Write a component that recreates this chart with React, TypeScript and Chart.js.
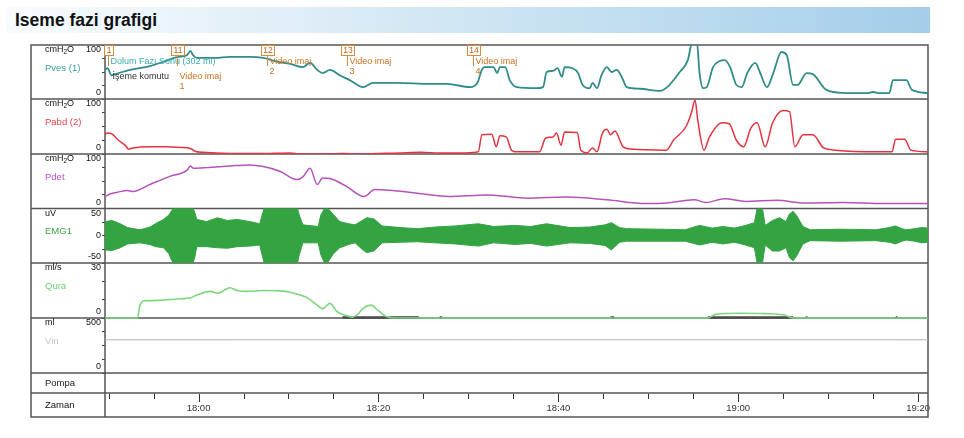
import React, { useEffect, useRef } from 'react';
import { Chart, registerables } from 'chart.js';

Chart.register(...registerables);

type Pt = [number, number | null];

// ---------------- time axis (minutes after 17:00) ----------------
const TIME_MIN = 49.6;
const TIME_MAX = 141.1;
const minorTickMinutes = [50, 55, 60, 65, 70, 75, 80, 85, 90, 95, 100, 105, 110, 115, 120, 125, 130, 135, 140];
const majorTickMinutes = [60, 80, 100, 120, 140];
const majorTickLabels = ['18:00', '18:20', '18:40', '19:00', '19:20'];
const timeAxisName = 'Zaman';
const titleText = 'Iseme fazi grafigi';

// ---------------- channels ----------------
const scaleIds = ['yPves', 'yPabd', 'yPdet', 'yEmg', 'yQura', 'yVin', 'yPompa'];
const channelNames = ['Pves (1)', 'Pabd (2)', 'Pdet', 'EMG1', 'Qura', 'Vin', 'Pompa'];
const channelUnits = ['cmH2O', 'cmH2O', 'cmH2O', 'uV', 'ml/s', 'ml', ''];
const channelLabelValues = [[100, 0], [100, 0], [100, 0], [50, 0, -50], [30, 0], [500, 0], []];
const channelMin = [0, 0, 0, -50, 0, 0, 0];
const channelMax = [100, 100, 100, 50, 30, 500, 1];
const channelStep = [25, 25, 25, 25, 10, 125, 1];

// ---------------- series [minute, value] ----------------
const pves: Pt[] = [
  [49.6, 54], [49.9, 57], [50.3, 44], [50.7, 46], [52.4, 54], [54.6, 61], [56.1, 69], [57.7, 78], [58.7, 81],
  [59.1, 89], [59.4, 81], [59.8, 76], [61.8, 76], [63.5, 78], [65.7, 78], [67.2, 76], [68.5, 70], [70.2, 65],
  [71.6, 59], [72.4, 67], [73.2, 54], [73.8, 48], [74.6, 54], [75.7, 44], [76.8, 35], [78.3, 22], [79.4, 30],
  [82.1, 30], [85.7, 28], [87.6, 28], [90.2, 22], [91.0, 30], [91.5, 54], [91.8, 59], [92.8, 59], [93.2, 48],
  [93.5, 59], [94.1, 59], [94.6, 35], [95.4, 22], [97.6, 20], [98.3, 22], [98.7, 50], [99.4, 52], [99.9, 57],
  [100.4, 41], [100.7, 59], [101.6, 57], [102.2, 48], [102.7, 26], [103.5, 20], [103.8, 30], [104.3, 20],
  [104.8, 44], [105.4, 59], [105.9, 50], [106.5, 54], [107.1, 39], [107.6, 22], [109.1, 19], [111.3, 15],
  [112.1, 22], [113.5, 50], [114.4, 72], [114.9, 106], [115.4, 106], [115.7, 48], [116.1, 20], [116.5, 22],
  [117.2, 59], [117.9, 70], [118.5, 72], [119.1, 59], [119.8, 26], [120.4, 22], [121.0, 48], [121.9, 67],
  [122.4, 50], [123.2, 22], [123.9, 48], [124.8, 87], [125.4, 81], [126.1, 26], [126.6, 26], [127.6, 48],
  [128.3, 46], [129.8, 17], [132.1, 11], [134.3, 11], [135.0, 13], [135.7, 11], [136.8, 11], [137.2, 35],
  [138.7, 35], [139.3, 17], [141.1, 11],
];

const pabd: Pt[] = [
  [49.6, 35], [49.8, 38], [50.4, 36], [51.1, 25], [51.9, 15], [52.2, 9], [52.7, 11], [54.6, 13], [56.3, 13],
  [58.0, 12], [59.1, 10], [59.6, 5], [60.5, 3], [63.5, 1], [67.2, 1], [70.2, 2], [71.3, 0], [73.5, 0], [76.0, 1],
  [78.0, 0], [82.4, 2], [84.7, 3], [86.8, 2], [89.7, 2], [91.1, 4], [91.5, 35], [92.6, 36], [93.1, 13], [93.5, 33],
  [94.2, 31], [94.8, 7], [95.3, 4], [97.9, 4], [98.6, 29], [99.4, 31], [99.8, 38], [100.3, 16], [100.7, 40],
  [102.1, 39], [102.5, 7], [103.2, 2], [103.8, 11], [104.3, 4], [104.9, 38], [105.4, 45], [105.8, 35], [106.3, 42],
  [107.2, 13], [108.1, 9], [112.0, 7], [112.8, 25], [114.2, 50], [114.8, 75], [115.2, 98], [115.5, 62], [116.2, 7],
  [116.8, 31], [118.2, 57], [119.0, 55], [119.8, 25], [120.6, 13], [121.4, 47], [122.1, 57], [123.0, 13],
  [123.8, 56], [125.0, 79], [125.7, 77], [126.3, 13], [127.2, 35], [128.3, 35], [129.5, 11], [130.8, 7],
  [135.3, 4], [137.1, 4], [137.5, 27], [138.5, 27], [139.2, 7], [141.1, 4],
];

const pdet: Pt[] = [
  [49.6, 22], [50.2, 27], [51.0, 30], [52.1, 33], [52.7, 31], [54.6, 44], [56.8, 59], [58.7, 70], [59.1, 78],
  [59.4, 74], [60.9, 75], [63.5, 78], [65.7, 80], [67.2, 77], [69.1, 68], [70.9, 53], [71.6, 58], [72.4, 74],
  [73.2, 44], [73.8, 56], [74.6, 55], [76.4, 41], [78.4, 22], [79.6, 35], [83.4, 30], [87.8, 22], [92.2, 25],
  [96.6, 19], [100.9, 21], [105.4, 16], [109.7, 9], [112.0, 10], [115.1, 16], [116.4, 11], [118.5, 18],
  [120.8, 13], [124.3, 15], [127.4, 10], [131.7, 11], [136.2, 9], [141.1, 9],
];

// EMG envelope: minute, upper, lower (uV)
const emgTime = [
  49.6, 50.4, 51.3, 52.1, 53.5, 54.6, 55.2, 56.1, 56.7, 57.0, 57.2, 59.4, 59.6, 59.8, 60.9, 62.1, 63.2, 64.3,
  65.7, 66.8, 67.1, 67.3, 71.0, 71.2, 71.6, 73.3, 73.6, 74.0, 74.4, 75.0, 75.7, 76.7, 77.4, 78.2, 78.7, 79.5,
  80.4, 82.4, 84.3, 86.3, 88.5, 91.1, 92.8, 95.2, 96.9, 98.7, 101.3, 103.5, 105.2, 105.9, 106.8, 107.6, 111.3,
  114.1, 115.7, 117.1, 118.3, 119.6, 120.8, 121.8, 122.1, 122.7, 123.0, 123.8, 124.6, 125.3, 125.7, 126.1,
  126.5, 127.2, 128.0, 131.3, 135.3, 136.8, 137.5, 138.2, 138.7, 139.6, 140.4, 141.1,
];
const emgUpper = [
  26, 28, 22, 15, 11, 16, 22, 30, 38, 46, 50, 50, 42, 30, 26, 33, 28, 30,
  26, 22, 40, 50, 50, 38, 20, 17, 38, 50, 50, 39, 26, 22, 20, 28, 33, 31,
  18, 15, 13, 16, 18, 22, 17, 19, 17, 22, 15, 16, 20, 24, 15, 13, 12,
  11, 19, 14, 17, 14, 19, 24, 50, 50, 19, 28, 33, 26, 40, 45,
  37, 17, 11, 12, 11, 15, 18, 13, 11, 13, 15, 14,
];
const emgLower = [
  -26, -27, -22, -15, -13, -16, -20, -22, -33, -45, -50, -50, -38, -20, -20, -22, -23, -20,
  -19, -17, -38, -50, -50, -35, -13, -13, -35, -50, -48, -33, -22, -16, -13, -25, -31, -28,
  -13, -12, -11, -13, -15, -19, -13, -16, -14, -19, -13, -14, -18, -26, -12, -10, -10,
  -10, -17, -12, -15, -12, -17, -22, -50, -50, -17, -28, -28, -22, -40, -46,
  -37, -15, -9, -10, -9, -12, -15, -10, -8, -10, -13, -12,
];

const qura: Pt[] = [
  [49.6, 0], [53.2, 0], [53.5, 7], [54.1, 9.5], [54.6, 9.5], [56.1, 9.8], [58.0, 10.5], [59.1, 11], [59.8, 12.5],
  [61.3, 14.5], [62.1, 13.5], [63.5, 16.5], [64.3, 15], [65.4, 14.5], [67.2, 15], [69.1, 14.8], [70.2, 14],
  [72.1, 11], [73.2, 7], [73.8, 5], [74.6, 8], [75.4, 3.5], [76.3, 1.5], [77.1, 0.5], [77.7, 2], [78.3, 5.3],
  [79.2, 7], [79.9, 4.4], [80.8, 1], [81.8, 0], [116.6, 0], [117.5, 2], [120.2, 2.6], [123.0, 2.4], [125.2, 1.5],
  [126.1, 0], [141.1, 0],
];
// dark baseline segments on the flow channel
const quraMarks: Pt[] = [
  [76.0, 0.3], [84.5, 0.3], [84.6, null], [86.8, 0.3], [87.1, 0.3], [87.2, null], [105.8, 0.3], [106.2, 0.3],
  [106.3, null], [116.6, 0.3], [126.1, 0.3], [126.2, null], [127.5, 0.3], [127.7, 0.3], [127.8, null],
  [137.5, 0.3], [137.7, 0.3],
];
const vin: Pt[] = [[49.6, 302], [141.1, 302]];

// ---------------- event markers ----------------
const markerIds = ['1', '11', '12', '13', '14'];
const markerTimes = [49.94, 57.6, 67.6, 76.5, 90.5];
const markerNotes = [
  ['Dolum Fazı Sonu (302 ml)', 'İşeme komutu'],
  ['Video imaj', '1'],
  ['Video imaj', '2'],
  ['Video imaj', '3'],
  ['Video imaj', '4'],
];

// ---------------- styling / layout ----------------
const FONT = '"Liberation Sans", Arial, Helvetica, sans-serif';
const channelColors = ['#3a9d9b', '#e0424c', '#c04cc6', '#3aa648', '#6fcf6f', '#c4c4c4', '#222222'];
const panelHeights = [54, 55, 54.5, 54.5, 55, 55, 20];
const noteY = [[17, 32], [32, 42], [17, 27], [17, 27], [17, 27]];
const noteDx = [[2, 4], [2, 2], [2, 2], [2, 2], [2, 2]];
const noteColors = [['#3aa9ab', '#333333'], ['#c8701e', '#c8701e'], ['#c8701e', '#c8701e'], ['#c8701e', '#c8701e'], ['#c8701e', '#c8701e']];

function toXY(d: Pt[]) {
  return d.map(([x, y]) => ({ x, y }));
}

function drawUnit(ctx: CanvasRenderingContext2D, text: string, x: number, y: number) {
  const i = text.indexOf('H2O');
  if (i < 0) {
    ctx.fillText(text, x, y);
    return;
  }
  const a = text.slice(0, i + 1);
  ctx.fillText(a, x, y);
  let cx = x + ctx.measureText(a).width;
  const f = ctx.font;
  ctx.font = `6.5px ${FONT}`;
  ctx.fillText('2', cx, y + 2.5);
  cx += ctx.measureText('2').width;
  ctx.font = f;
  ctx.fillText('O', cx, y);
}

function seg(ctx: CanvasRenderingContext2D, x1: number, y1: number, x2: number, y2: number) {
  ctx.beginPath();
  ctx.moveTo(x1, y1);
  ctx.lineTo(x2, y2);
  ctx.stroke();
}

const framePlugin = {
  id: 'urodynFrame',
  beforeDatasetsDraw(chart: any) {
    const { ctx, chartArea } = chart;
    const xs = chart.scales.x;
    const first = chart.scales[scaleIds[0]];
    const left = first.left;
    const right = chartArea.right;
    const top = chartArea.top;
    const bottom = xs.bottom;
    ctx.save();
    ctx.strokeStyle = '#555555';
    ctx.lineWidth = 1.5;
    ctx.strokeRect(left, top, right - left, bottom - top);
    scaleIds.forEach((id) => {
      const s = chart.scales[id];
      seg(ctx, left, s.bottom, right, s.bottom);
    });
    seg(ctx, chartArea.left, top, chartArea.left, bottom);

    // time ticks
    ctx.lineWidth = 1;
    ctx.strokeStyle = '#333333';
    xs.ticks.forEach((t: any) => {
      const px = Math.round(xs.getPixelForValue(t.value)) + 0.5;
      const len = majorTickMinutes.includes(t.value) ? 8 : 5;
      seg(ctx, px, xs.top + 1, px, xs.top + 1 + len);
    });

    // channel labels
    ctx.textBaseline = 'middle';
    scaleIds.forEach((id, i) => {
      const s = chart.scales[id];
      ctx.textAlign = 'left';
      ctx.fillStyle = '#111111';
      ctx.font = `9px ${FONT}`;
      if (channelUnits[i]) drawUnit(ctx, channelUnits[i], 45, s.top + 5);
      ctx.fillStyle = channelColors[i];
      ctx.font = `9.5px ${FONT}`;
      const nameY = channelUnits[i] ? s.top + 23 : (s.top + s.bottom) / 2;
      ctx.fillText(channelNames[i], 45, nameY);
      ctx.textAlign = 'right';
      ctx.fillStyle = '#111111';
      ctx.font = `9px ${FONT}`;
      channelLabelValues[i].forEach((v) => {
        let y = s.getPixelForValue(v);
        y = Math.min(Math.max(y, s.top + 5), s.bottom - 6);
        ctx.fillText(String(v), 101, y);
      });
    });
    ctx.textAlign = 'left';
    ctx.fillStyle = '#111111';
    ctx.font = `9.5px ${FONT}`;
    ctx.fillText(timeAxisName, 45, (xs.top + xs.bottom) / 2);
    ctx.restore();
  },
  afterDatasetsDraw(chart: any) {
    const { ctx } = chart;
    const xs = chart.scales.x;
    const s = chart.scales.yPves;
    const top = s.top;
    ctx.save();
    ctx.textBaseline = 'middle';
    markerTimes.forEach((t, i) => {
      const mx = Math.round(xs.getPixelForValue(t)) + 0.5;
      ctx.font = `8.5px ${FONT}`;
      const w = Math.round(ctx.measureText(markerIds[i]).width + 4);
      const bx = Math.round(mx - w / 2) + 0.5;
      ctx.fillStyle = '#ffffff';
      ctx.fillRect(bx, top + 0.5, w, 10);
      ctx.strokeStyle = '#d98a3a';
      ctx.lineWidth = 1;
      ctx.strokeRect(bx, top + 0.5, w, 10);
      ctx.fillStyle = '#c0601a';
      ctx.textAlign = 'center';
      ctx.fillText(markerIds[i], bx + w / 2, top + 6);
      seg(ctx, mx, top + 10.5, mx, top + 21);
      ctx.textAlign = 'left';
      ctx.font = `9px ${FONT}`;
      markerNotes[i].forEach((n, j) => {
        ctx.fillStyle = noteColors[i][j];
        ctx.fillText(n, mx + noteDx[i][j], top + noteY[i][j]);
      });
    });
    ctx.restore();
  },
};

function yAxis(i: number) {
  const isPompa = scaleIds[i] === 'yPompa';
  return {
    type: 'linear',
    position: 'left',
    stack: 'channels',
    stackWeight: panelHeights[i],
    weight: scaleIds.length - i,
    min: channelMin[i],
    max: channelMax[i],
    afterFit: (sc: any) => {
      sc.width = 74;
    },
    ticks: { display: false, stepSize: channelStep[i] },
    grid: {
      display: !isPompa,
      drawOnChartArea: false,
      drawTicks: true,
      tickLength: 3,
      color: '#444444',
      tickColor: '#444444',
      tickWidth: 1,
    },
    border: { display: false },
  };
}

function lineDs(data: Pt[], yAxisID: string, color: string, width = 1.5, extra: any = {}) {
  return {
    type: 'line',
    data: toXY(data),
    xAxisID: 'x',
    yAxisID,
    borderColor: color,
    backgroundColor: color,
    borderWidth: width,
    pointRadius: 0,
    fill: false,
    cubicInterpolationMode: 'monotone',
    ...extra,
  };
}

export default function App() {
  const ref = useRef<HTMLCanvasElement | null>(null);

  useEffect(() => {
    if (!ref.current) return;
    Chart.defaults.font.family = FONT;
    const scales: any = {
      x: {
        type: 'linear',
        position: 'bottom',
        min: TIME_MIN,
        max: TIME_MAX,
        afterBuildTicks: (sc: any) => {
          sc.ticks = minorTickMinutes.map((v) => ({ value: v }));
        },
        afterFit: (sc: any) => {
          sc.height = 24;
        },
        grid: { display: false, drawTicks: false, tickLength: 0 },
        border: { display: false },
        ticks: {
          autoSkip: false,
          maxRotation: 0,
          padding: 10,
          color: '#333333',
          font: { family: FONT, size: 9.5 },
          callback: (v: any) => {
            const k = majorTickMinutes.indexOf(Number(v));
            return k >= 0 ? majorTickLabels[k] : '';
          },
        },
      },
    };
    scaleIds.forEach((id, i) => {
      scales[id] = yAxis(i);
    });

    const emgUp = emgTime.map((t, i) => [t, emgUpper[i]] as Pt);
    const emgLo = emgTime.map((t, i) => [t, emgLower[i]] as Pt);
    const emgColor = '#34a443';

    const chart = new Chart(ref.current, {
      type: 'line',
      data: {
        datasets: [
          lineDs(vin, 'yVin', '#b4b4b4', 1),
          lineDs(emgUp, 'yEmg', emgColor, 1, { fill: '+1', backgroundColor: emgColor, cubicInterpolationMode: 'default', tension: 0 }),
          lineDs(emgLo, 'yEmg', emgColor, 1, { cubicInterpolationMode: 'default', tension: 0 }),
          lineDs(pdet, 'yPdet', '#b652ba', 1.5),
          lineDs(pabd, 'yPabd', '#e3343f', 1.5),
          lineDs(pves, 'yPves', '#2f8c8a', 1.8),
          lineDs(qura, 'yQura', '#7dd67d', 1.6, { clip: { left: 0, right: 0, top: 0, bottom: 2 } }),
          lineDs(quraMarks, 'yQura', '#4a4a4a', 2.5, { cubicInterpolationMode: 'default', tension: 0, clip: { left: 0, right: 0, top: 0, bottom: 3 } }),
        ] as any,
      },
      options: {
        animation: false,
        responsive: false,
        maintainAspectRatio: false,
        events: [],
        layout: { padding: { left: 31, top: 45, right: 36, bottom: 21 } },
        plugins: { legend: { display: false }, tooltip: { enabled: false } },
        scales,
      } as any,
      plugins: [framePlugin],
    });
    return () => chart.destroy();
  }, []);

  return (
    <div style={{ position: 'fixed', left: 0, top: 0, width: 964, height: 438, background: '#ffffff', overflow: 'hidden' }}>
      <div
        style={{
          position: 'absolute',
          left: 6,
          top: 7,
          width: 924,
          height: 26,
          boxSizing: 'border-box',
          paddingLeft: 9,
          background: 'linear-gradient(to right, #f7fbfd 0%, #eaf4fa 18%, #cfe5f3 50%, #b7d9ee 78%, #a4cde9 100%)',
          fontFamily: FONT,
          fontWeight: 700,
          fontSize: 17.5,
          lineHeight: '26px',
          color: '#111111',
        }}
      >
        {titleText}
      </div>
      <canvas ref={ref} width={964} height={438} style={{ position: 'absolute', left: 0, top: 0, width: 964, height: 438 }} />
    </div>
  );
}
